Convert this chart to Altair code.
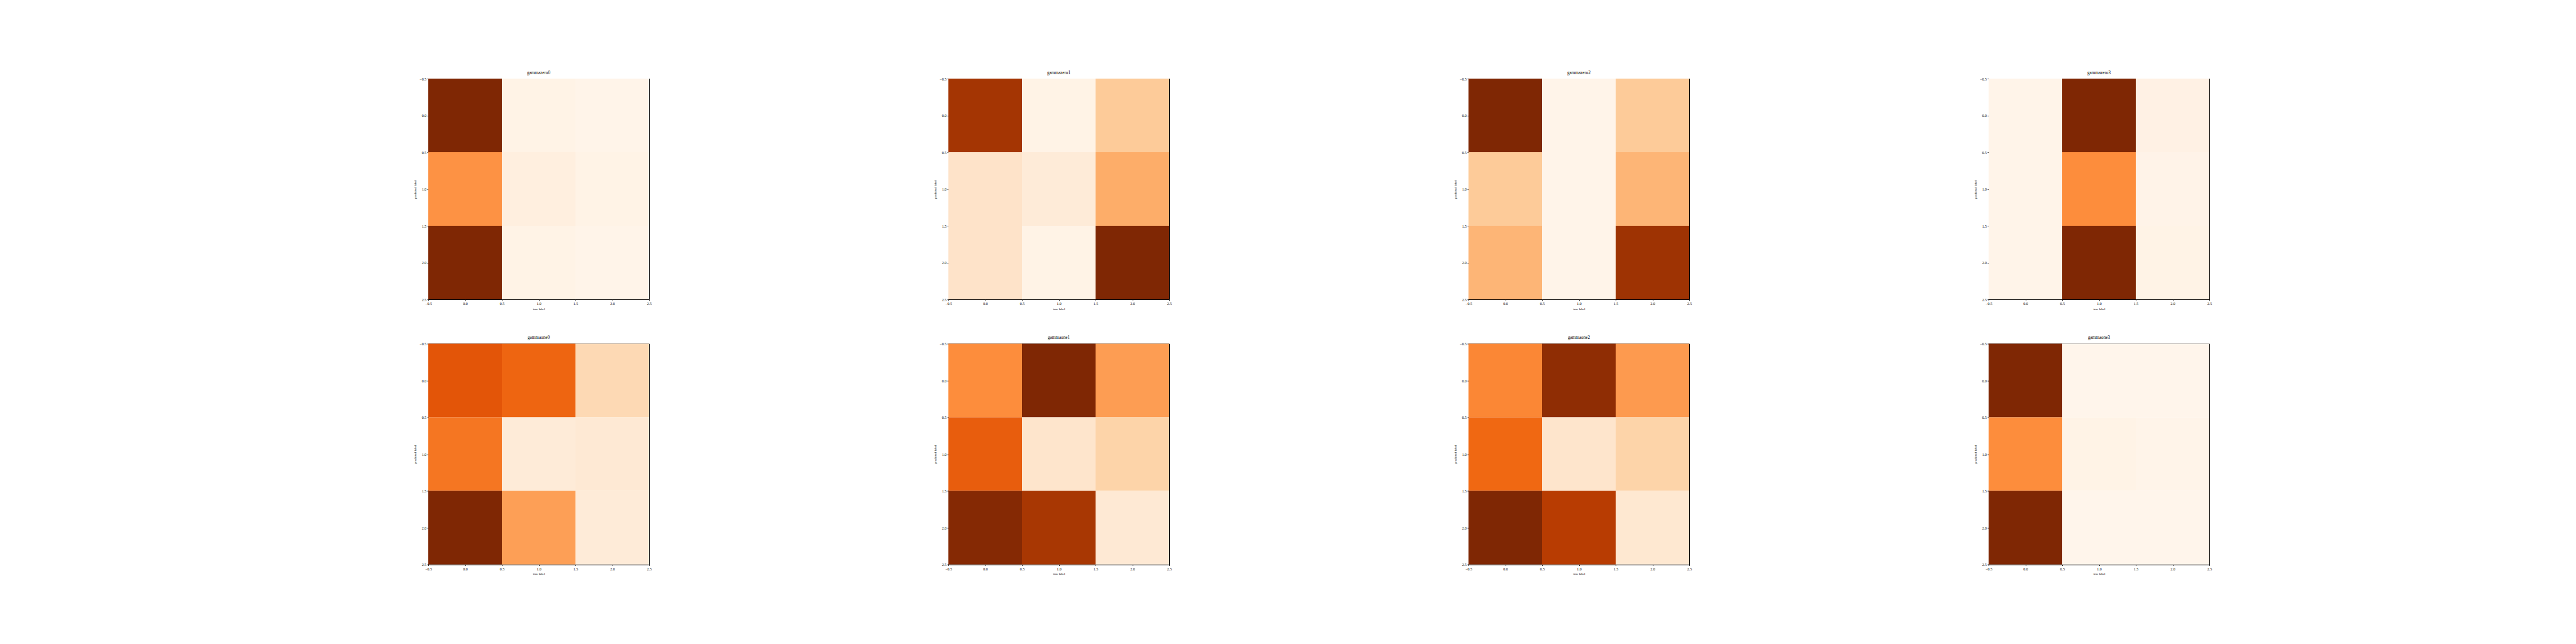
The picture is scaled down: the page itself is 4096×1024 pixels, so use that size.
import altair as alt
import pandas as pd

# ---- data (normalised 0..1 per panel) ----
titles = ["gammazero0", "gammazero1", "gammazero2", "gammazero3",
          "gammaone0", "gammaone1", "gammaone2", "gammaone3"]

gammazero0 = [[1.00, 0.02, 0.01],
              [0.48, 0.05, 0.02],
              [1.00, 0.02, 0.01]]
gammazero1 = [[0.88, 0.02, 0.27],
              [0.14, 0.08, 0.38],
              [0.14, 0.02, 1.00]]
gammazero2 = [[1.00, 0.01, 0.27],
              [0.27, 0.01, 0.35],
              [0.35, 0.01, 0.90]]
gammazero3 = [[0.01, 1.00, 0.03],
              [0.01, 0.50, 0.015],
              [0.01, 1.00, 0.02]]
gammaone0 = [[0.70, 0.64, 0.20],
             [0.58, 0.08, 0.10],
             [1.00, 0.43, 0.08]]
gammaone1 = [[0.50, 1.00, 0.44],
             [0.67, 0.13, 0.23],
             [0.98, 0.87, 0.10]]
gammaone2 = [[0.52, 0.95, 0.45],
             [0.63, 0.13, 0.23],
             [1.00, 0.83, 0.11]]
gammaone3 = [[1.00, 0.00, 0.00],
             [0.50, 0.02, 0.01],
             [1.00, 0.00, 0.00]]

matrices = [gammazero0, gammazero1, gammazero2, gammazero3,
            gammaone0, gammaone1, gammaone2, gammaone3]

tick_values = [-0.5, 0.0, 0.5, 1.0, 1.5, 2.0, 2.5]

# matplotlib "Oranges" colour map nodes
cmap_stops = [0.0, 0.125, 0.25, 0.375, 0.5, 0.625, 0.75, 0.875, 1.0]
cmap_colors = ["#fff5eb", "#fee6ce", "#fdd0a2", "#fdae6b", "#fd8d3c",
               "#f16913", "#d94801", "#a63603", "#7f2704"]

SIZE = 351
FONT = "Liberation Serif"


def panel(title, mat):
    rows = []
    for p, row in enumerate(mat):
        for t, v in enumerate(row):
            rows.append({"pred": p, "true": t, "value": v})
    df = pd.DataFrame(rows)
    return (
        alt.Chart(df)
        .transform_calculate(
            x0="datum.true - 0.5", x1="datum.true + 0.5",
            y0="datum.pred - 0.5", y1="datum.pred + 0.5",
        )
        .mark_rect(strokeWidth=0)
        .encode(
            x=alt.X("x0:Q",
                    scale=alt.Scale(domain=[-0.5, 2.5], nice=False, zero=False),
                    axis=alt.Axis(values=tick_values, format=".1f", title="true label")),
            x2="x1:Q",
            y=alt.Y("y0:Q",
                    scale=alt.Scale(domain=[-0.5, 2.5], nice=False, zero=False, reverse=True),
                    axis=alt.Axis(values=tick_values, format=".1f", title="predicted label")),
            y2="y1:Q",
            color=alt.Color("value:Q",
                            scale=alt.Scale(domain=cmap_stops, range=cmap_colors,
                                            interpolate="rgb"),
                            legend=None),
        )
        .properties(width=SIZE, height=SIZE, title=title)
    )


charts = [panel(t, m) for t, m in zip(titles, matrices)]

chart = (
    alt.concat(*charts, columns=4, spacing={"row": 70.5, "column": 476}, bounds="flush")
    .properties(padding={"left": 649, "top": 103, "right": 5, "bottom": 5})
    .configure_view(stroke="black", strokeWidth=1)
    .configure_axis(
        domain=False,
        grid=False,
        ticks=True,
        tickColor="black",
        tickSize=2,
        tickWidth=0.8,
        labelFont=FONT,
        labelFontSize=5.9,
        labelColor="black",
        labelPadding=1.5,
        labelFlush=False,
        labelOverlap=False,
        titleFont=FONT,
        titleFontSize=5,
        titleFontWeight="normal",
        titleColor="black",
        titlePadding=3,
    )
    .configure_axisY(titlePadding=4)
    .configure_title(font=FONT, fontSize=7.2, fontWeight="normal", color="black",
                     anchor="middle", offset=3)
)

chart.save("out.html", embed_options={"renderer": "svg", "actions": False})
